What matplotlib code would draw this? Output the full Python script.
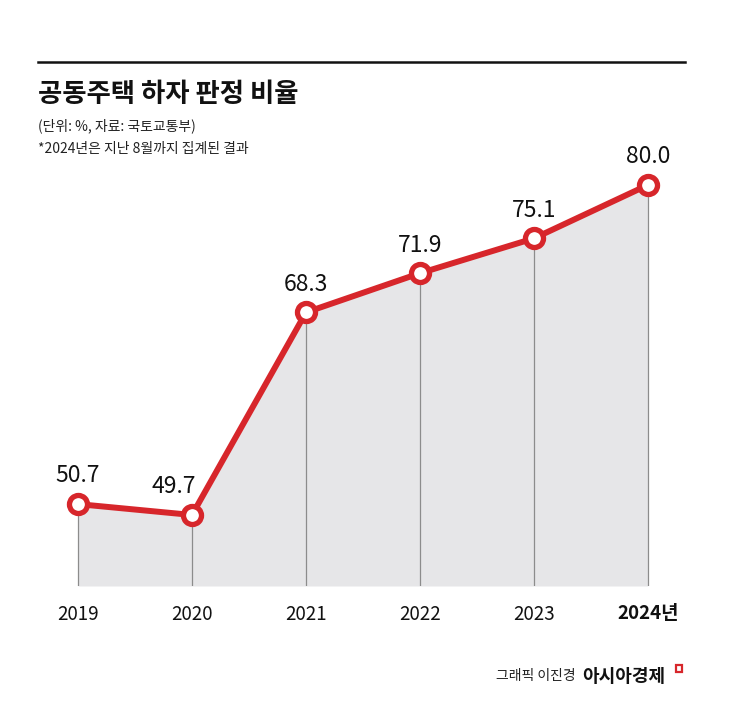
import matplotlib.pyplot as plt
from matplotlib.lines import Line2D
from matplotlib.patches import Rectangle

plt.rcParams['font.family'] = ['Noto Sans CJK KR', 'DejaVu Sans']

years = ['2019', '2020', '2021', '2022', '2023', '2024년']
rates = [50.7, 49.7, 68.3, 71.9, 75.1, 80.0]

red = '#d7262b'
fill_grey = '#e6e6e8'
x = list(range(len(years)))

fig = plt.figure(figsize=(7.45, 7.05), dpi=100)
ax = fig.add_axes([0.051, 0.1688, 0.875, 0.6184])
ax.set_xlim(-0.351, 5.368)
ax.set_ylim(43.18, 83.21)
ax.axis('off')

# grey area under the line
ax.fill_between(x, rates, 43.18, color=fill_grey, lw=0, zorder=1)

# thin vertical guides from the base to each point
ax.vlines(x, 43.18, rates, color='#8c8c8c', lw=0.9, zorder=2)

# red line with hollow markers
ax.plot(x, rates, color=red, lw=4.3, solid_capstyle='round', zorder=3)
ax.plot(x, rates, 'o', ms=13, mfc='white', mec=red, mew=3.8, zorder=4, clip_on=False)

for i, (xi, v) in enumerate(zip(x, rates)):
    # 2020 label sits a bit left so it clears the rising line
    dx = -13 if i == 1 else 0
    ax.annotate(f'{v:.1f}', (xi, v), xytext=(dx, 12), textcoords='offset points',
                ha='center', va='bottom', fontsize=16.5, color='#111111')

for xi, lab in zip(x, years):
    bold = lab.endswith('년')
    ax.text(xi, 41.5, lab, ha='center', va='top', fontsize=13.5,
            fontweight='bold' if bold else 'normal', color='#111111')

# header
fig.add_artist(Line2D([38 / 745, 685 / 745], [1 - 62 / 705, 1 - 62 / 705],
                      color='#111111', lw=1.8))
fig.text(38 / 745, 1 - 95 / 705, '공동주택 하자 판정 비율', fontsize=19,
         fontweight='bold', va='center', ha='left', color='#111111')
fig.text(38 / 745, 1 - 126 / 705, '(단위: %, 자료: 국토교통부)', fontsize=10,
         va='center', ha='left', color='#222222')
fig.text(38 / 745, 1 - 149 / 705, '*2024년은 지난 8월까지 집계된 결과', fontsize=10,
         va='center', ha='left', color='#222222')

# footer
fig.text(576 / 745, 1 - 676 / 705, '그래픽 이진경', fontsize=10,
         va='center', ha='right', color='#222222')
fig.text(582 / 745, 1 - 676 / 705, '아시아경제', fontsize=13,
         fontweight='bold', va='center', ha='left', color='#111111')
fig.add_artist(Rectangle((676 / 745, 1 - 672 / 705), 6 / 745, 7 / 705,
                         fill=False, edgecolor=red, lw=1.6,
                         transform=fig.transFigure))

fig.savefig('out.png', dpi=100, facecolor='white')
